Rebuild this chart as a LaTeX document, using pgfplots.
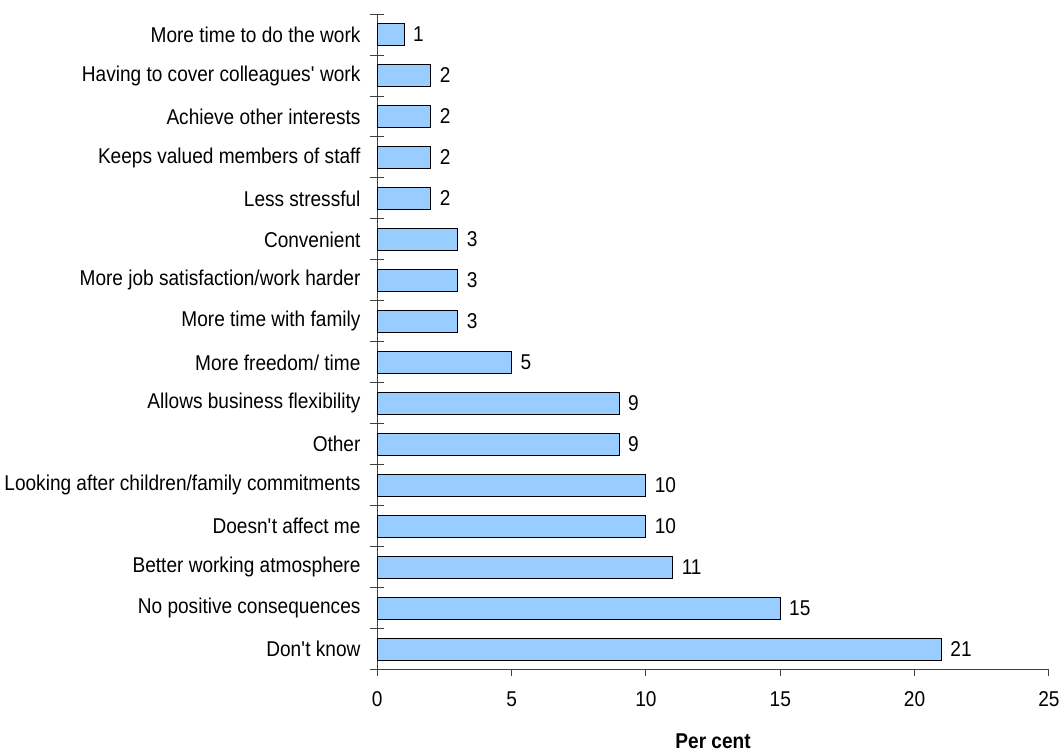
\documentclass[border=0pt]{standalone}
\usepackage{pgfplots}
\pgfplotsset{compat=1.18}
\usepackage{fontspec}
\setmainfont[FakeStretch=0.89]{Liberation Sans}
\definecolor{barblue}{HTML}{99CCFF}
\definecolor{axgray}{HTML}{404040}
\begin{document}
\begin{tikzpicture}
\begin{axis}[
  scale only axis,
  width=501.75pt, height=489.75pt,
  xbar, bar width=0.54,
  xmin=0, xmax=25,
  ymin=-0.5, ymax=15.5,
  axis lines*=left,
  axis line style={axgray, line width=0.75pt},
  xtick={0,5,...,25},
  ytick={0,...,15},
  yticklabels={Don\textquotesingle t know,No positive consequences,Better working atmosphere,Doesn\textquotesingle t affect me,Looking after children/family commitments,Other,Allows business flexibility,More freedom/ time,More time with family,More job satisfaction/work harder,Convenient,Less stressful,Keeps valued members of staff,Achieve other interests,Having to cover colleagues\textquotesingle\ work,More time to do the work},
  minor ytick={-0.5,0.5,...,15.5},
  major y tick style={draw=none},
  minor y tick style={axgray, line width=0.75pt},
  minor tick length=10.5pt,
  ytick align=center,
  major x tick style={axgray, line width=0.75pt},
  major tick length=5pt,
  xtick align=outside,
  tick label style={font=\fontsize{16pt}{19pt}\selectfont},
  /pgf/number format/assume math mode=true,
  xticklabel style={yshift=-8pt},
  yticklabel style={xshift=-6.5pt},
  xlabel={\textbf{Per cent}},
  xlabel style={font=\fontsize{16pt}{19pt}\selectfont, yshift=-13pt},
  nodes near coords,
  nodes near coords style={font=\fontsize{16pt}{19pt}\selectfont, black, xshift=3pt},
  clip=false,
]
\addplot[fill=barblue, draw=black, line width=0.75pt] coordinates {
(21,0) (15,1) (11,2) (10,3) (10,4) (9,5) (9,6) (5,7) (3,8) (3,9) (3,10) (2,11) (2,12) (2,13) (2,14) (1,15)};
\end{axis}
\path (current axis.north) ++(0,10.5pt);
\end{tikzpicture}
\end{document}
